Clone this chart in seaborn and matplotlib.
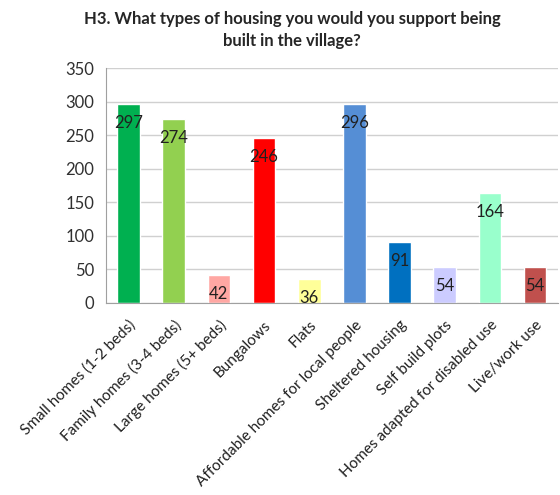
import seaborn as sns
import matplotlib
matplotlib.use('Agg')
import matplotlib.pyplot as plt, numpy as np
import pandas as pd

categories = ['Small homes (1-2 beds)', 'Family homes (3-4 beds)', 'Large homes (5+ beds)',
              'Bungalows', 'Flats', 'Affordable homes for local people', 'Sheltered housing',
              'Self build plots', 'Homes adapted for disabled use', 'Live/work use']
counts = [297, 274, 42, 246, 36, 296, 91, 54, 164, 54]
colors = ['#00B050', '#92D050', '#FFA7A3', '#FF0000', '#FFFF99',
          '#558ED5', '#0070C0', '#CCCCFF', '#99FFCC', '#C0504D']

sns.set_style('white')
plt.rcParams['font.family'] = ['Lato', 'DejaVu Sans']

df = pd.DataFrame({'tipo': categories, 'n': counts})

fig = plt.figure(figsize=(5.6, 4.95), dpi=100)
ax = fig.add_axes([0.189, 0.3885, 0.807, 0.4735])
sns.barplot(data=df, x='tipo', y='n', hue='tipo', palette=colors, legend=False,
            width=0.5, ax=ax, saturation=1)

ax.set_ylim(0, 350)
ax.set_xlim(-0.5, len(categories) - 0.5)
ax.set_yticks(range(0, 351, 50))
ax.yaxis.grid(True, color='#D0D0D0', lw=1)
ax.set_axisbelow(True)
for s in ['top', 'right']:
    ax.spines[s].set_visible(False)
for s in ['left', 'bottom']:
    ax.spines[s].set_color('#A0A0A0')
ax.set_xlabel('')
ax.set_ylabel('')

# ticks sit between the bars, like Excel
ax.set_xticks(np.arange(-0.5, len(categories)), minor=True)
ax.tick_params(axis='x', which='minor', length=5, color='#A0A0A0', direction='out')
ax.tick_params(axis='x', which='major', length=0, pad=11)
ax.tick_params(axis='y', length=5, color='#A0A0A0', direction='out', labelsize=12,
               labelcolor='#303030')
ax.set_xticks(range(len(categories)))
ax.set_xticklabels(categories, rotation=45, ha='right', rotation_mode='anchor',
                   fontsize=11, color='#202020')

for i, v in enumerate(counts):
    ax.annotate(str(v), (i, v), xytext=(0, -19), textcoords='offset pixels',
                ha='center', va='center', fontsize=12, color='#202020')

fig.text(0.522, 0.94, 'H3. What types of housing you would you support being\nbuilt in the village?',
         ha='center', va='center', fontsize=12, fontweight='bold', linespacing=1.45)

plt.savefig('out.png')
plt.close()
